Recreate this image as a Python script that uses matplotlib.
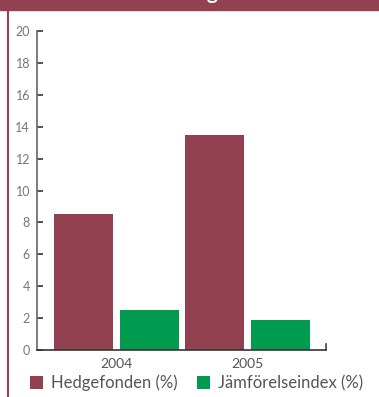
import matplotlib
matplotlib.use("Agg")
import matplotlib.pyplot as plt
from matplotlib.patches import Rectangle
from matplotlib.lines import Line2D
import numpy as np

plt.rcParams['font.family'] = ['Lato', 'DejaVu Sans']

years = ["2004", "2005"]
hedgefonden = [8.5, 13.5]
jamforelseindex = [2.5, 1.9]
series_names = ["Hedgefonden (%)", "Jämförelseindex (%)"]
y_ticks = [0, 2, 4, 6, 8, 10, 12, 14, 16, 18, 20]

maroon = "#934150"
green = "#009B4E"
text_gray = "#555555"

W, H = 379, 397
fig = plt.figure(figsize=(W / 100, H / 100), dpi=100)
fig.patch.set_facecolor("white")

# header band and left border
fig.patches.append(Rectangle((0, 1 - 10 / H), 1, 10 / H,
                             transform=fig.transFigure, color=maroon, zorder=0))
fig.lines.append(Line2D([7.5 / W, 7.5 / W], [0, 1], transform=fig.transFigure,
                        color=maroon, lw=1.5))
fig.text(218 / W, 1 + 1.0 / H, "Avkastning", color="white", fontsize=15,
         fontweight="bold", ha="right", va="baseline")

ax = fig.add_axes([37 / W, 47 / H, (326 - 37) / W, (350 - 31) / H])
x = np.arange(len(years))
w = 0.45
off = 0.252
ax.bar(x - off, hedgefonden, w, color=maroon, label=series_names[0])
ax.bar(x + off, jamforelseindex, w, color=green, label=series_names[1])

ax.set_xlim(-0.607, 1.599)
ax.set_ylim(0, 20)
ax.set_yticks(y_ticks)
ax.set_yticklabels([str(v) for v in y_ticks], color="#777777", fontsize=9)
ax.set_xticks(x)
ax.set_xticklabels(years, color=text_gray, fontsize=10)

ax.spines["top"].set_visible(False)
ax.spines["left"].set_color("#666666")
ax.spines["left"].set_linewidth(1.2)
ax.spines["bottom"].set_color("#333333")
ax.spines["bottom"].set_linewidth(1.2)
ax.spines["right"].set_color("#444444")
ax.spines["right"].set_linewidth(1.2)
ax.spines["right"].set_bounds(0, 0.4)

ax.tick_params(axis="y", direction="in", length=4.5, width=1.2, color="#333333", pad=5)
ax.tick_params(axis="x", length=0, pad=6)

leg = fig.legend(loc="center left", bbox_to_anchor=(30 / W, 1 - 383 / H), ncol=2,
                 frameon=False, fontsize=12, handlelength=0.75, handleheight=0.75,
                 handletextpad=0.5, columnspacing=1.2, labelcolor=text_gray,
                 borderpad=0, borderaxespad=0)

fig.savefig("out.png", dpi=100)
